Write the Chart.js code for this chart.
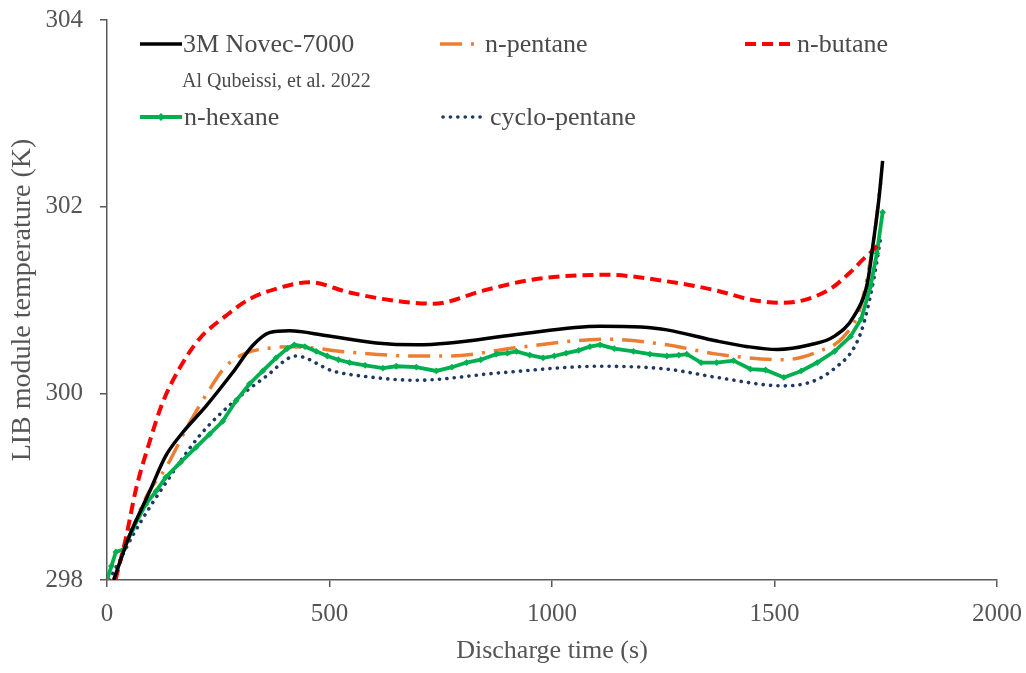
<!DOCTYPE html>
<html>
<head>
<meta charset="utf-8">
<script src="https://cdn.jsdelivr.net/npm/chart.js@4.4.1/dist/chart.umd.min.js"></script>
<style>
  html, body { margin: 0; padding: 0; background: #fff; }
  #wrap { width: 1026px; height: 673px; }
</style>
</head>
<body>
<div id="wrap"><canvas id="tempChart" width="1026" height="673"></canvas></div>
<script>
// Discharge time (s) and LIB module temperature (K) for each coolant
const novecTime = [15, 50, 95, 132, 170, 222, 282, 327, 365, 410, 491, 605, 695, 770, 920, 1108, 1200, 1258, 1371, 1440, 1506, 1580, 1634, 1679, 1709, 1723, 1735, 1743];
const novecTemp = [298.0, 298.47, 298.94, 299.33, 299.58, 299.86, 300.22, 300.51, 300.65, 300.67, 300.62, 300.54, 300.52, 300.54, 300.63, 300.72, 300.71, 300.68, 300.56, 300.5, 300.47, 300.52, 300.61, 300.83, 301.19, 301.65, 302.1, 302.49];

const pentaneTime = [15, 57, 95, 132, 177, 230, 267, 312, 357, 417, 545, 695, 770, 920, 1123, 1258, 1371, 1521, 1600, 1656, 1694, 1723, 1739];
const pentaneTemp = [298.0, 298.55, 298.95, 299.2, 299.61, 300.04, 300.29, 300.43, 300.48, 300.5, 300.44, 300.4, 300.4, 300.49, 300.58, 300.52, 300.42, 300.36, 300.45, 300.61, 300.94, 301.65, 302.26];

const butaneTime = [19, 42, 65, 95, 125, 162, 207, 267, 320, 380, 455, 545, 635, 733, 845, 958, 1123, 1258, 1371, 1450, 1520, 1619, 1671, 1700, 1723, 1739];
const butaneTemp = [298.0, 298.44, 298.97, 299.47, 299.9, 300.26, 300.58, 300.83, 301.01, 301.12, 301.19, 301.08, 301.0, 300.96, 301.1, 301.22, 301.27, 301.2, 301.1, 301.0, 300.97, 301.1, 301.3, 301.44, 301.54, 301.62];

const hexaneTime = [0, 10, 20, 38, 57, 87, 110, 132, 165, 200, 230, 260, 290, 320, 350, 380, 405, 421, 445, 470, 495, 520, 545, 580, 620, 650, 695, 740, 775, 808, 840, 875, 900, 920, 950, 980, 1005, 1032, 1060, 1085, 1108, 1140, 1183, 1220, 1258, 1285, 1303, 1335, 1370, 1408, 1446, 1480, 1521, 1560, 1596, 1635, 1671, 1695, 1716, 1730, 1743];
const hexaneTemp = [298.0, 298.15, 298.3, 298.33, 298.54, 298.81, 298.95, 299.1, 299.26, 299.42, 299.56, 299.7, 299.92, 300.1, 300.24, 300.38, 300.48, 300.52, 300.5, 300.45, 300.4, 300.36, 300.33, 300.3, 300.27, 300.29, 300.28, 300.24, 300.28, 300.33, 300.36, 300.42, 300.43, 300.45, 300.41, 300.38, 300.4, 300.43, 300.46, 300.5, 300.52, 300.48, 300.45, 300.42, 300.4, 300.41, 300.42, 300.33, 300.33, 300.35, 300.26, 300.25, 300.17, 300.24, 300.33, 300.45, 300.61, 300.8, 301.15, 301.5, 301.94];

const cycloTime = [5, 30, 57, 132, 207, 282, 357, 425, 507, 582, 695, 883, 1108, 1258, 1371, 1521, 1633, 1694, 1723, 1739];
const cycloTemp = [298.0, 298.22, 298.47, 299.04, 299.54, 299.9, 300.18, 300.4, 300.24, 300.18, 300.14, 300.22, 300.29, 300.26, 300.17, 300.08, 300.26, 300.65, 301.22, 301.68];

const xTicks = [0, 500, 1000, 1500, 2000];
const yTicks = [298, 300, 302, 304];

const toPoints = (xs, ys) => xs.map((x, i) => ({ x: x, y: ys[i] }));

const SERIF = '"Liberation Serif", "Times New Roman", serif';
const TEXT = '#555555';
const AXIS = '#595959';

const datasets = [
  {
    label: '3M Novec-7000',
    data: toPoints(novecTime, novecTemp),
    borderColor: '#000000',
    borderWidth: 3.5,
    cubicInterpolationMode: 'monotone',
    pointRadius: 0,
    order: 1
  },
  {
    label: 'n-pentane',
    data: toPoints(pentaneTime, pentaneTemp),
    borderColor: '#ED7D31',
    borderWidth: 3.5,
    borderDash: [22, 9, 3, 9],
    cubicInterpolationMode: 'monotone',
    pointRadius: 0,
    order: 3
  },
  {
    label: 'n-butane',
    data: toPoints(butaneTime, butaneTemp),
    borderColor: '#FF0000',
    borderWidth: 4,
    borderDash: [11, 6],
    cubicInterpolationMode: 'monotone',
    pointRadius: 0,
    order: 2
  },
  {
    label: 'n-hexane',
    data: toPoints(hexaneTime, hexaneTemp),
    borderColor: '#00B050',
    backgroundColor: '#00B050',
    borderWidth: 3.8,
    tension: 0,
    pointStyle: 'rectRot',
    pointRadius: 3.4,
    pointBorderWidth: 0,
    order: 2
  },
  {
    label: 'cyclo-pentane',
    data: toPoints(cycloTime, cycloTemp),
    borderColor: '#203864',
    borderWidth: 3.6,
    borderDash: [0.1, 7.3],
    borderCapStyle: 'round',
    cubicInterpolationMode: 'monotone',
    pointRadius: 0,
    order: 4
  }
];

// legend drawn inside the plot: [dataset index, sample x, sample y, sample length, text x]
const legendSlots = [
  [0, 140, 44, 42, 183],
  [1, 440, 44, 40, 485],
  [2, 745, 44, 46, 797],
  [3, 140, 117, 42, 184],
  [4, 443, 117, 40, 490]
];
const citation = 'Al Qubeissi, et al. 2022';

const insideLegend = {
  id: 'insideLegend',
  afterDraw(chart) {
    const ctx = chart.ctx;
    ctx.save();
    legendSlots.forEach(([i, x, y, len, tx]) => {
      const ds = chart.data.datasets[i];
      ctx.beginPath();
      ctx.strokeStyle = ds.borderColor;
      ctx.lineWidth = ds.borderWidth;
      ctx.lineCap = ds.borderCapStyle || 'butt';
      ctx.setLineDash(ds.borderDash || []);
      ctx.moveTo(x, y);
      ctx.lineTo(x + len, y);
      ctx.stroke();
      ctx.setLineDash([]);
      if (ds.pointRadius > 0) {
        const r = ds.pointRadius + 0.5;
        const cx = x + len / 2;
        ctx.fillStyle = ds.backgroundColor;
        ctx.beginPath();
        ctx.moveTo(cx, y - r);
        ctx.lineTo(cx + r, y);
        ctx.lineTo(cx, y + r);
        ctx.lineTo(cx - r, y);
        ctx.closePath();
        ctx.fill();
      }
      ctx.fillStyle = '#4a4a4a';
      ctx.font = '26px ' + SERIF;
      ctx.textBaseline = 'middle';
      ctx.textAlign = 'left';
      ctx.fillText(ds.label, tx, y + 1);
    });
    ctx.fillStyle = '#4a4a4a';
    ctx.font = '20px ' + SERIF;
    ctx.textBaseline = 'middle';
    ctx.fillText(citation, 182, 82);
    ctx.restore();
  }
};

const ctx = document.getElementById('tempChart').getContext('2d');
new Chart(ctx, {
  type: 'line',
  data: { datasets: datasets },
  options: {
    responsive: false,
    animation: false,
    devicePixelRatio: 1,
    layout: { padding: { top: 20, right: 29, bottom: 0, left: 0 } },
    plugins: {
      legend: { display: false },
      tooltip: { enabled: false }
    },
    scales: {
      x: {
        type: 'linear',
        min: 0,
        max: 2000,
        afterFit: (scale) => {
          scale.height = 93;
          scale.paddingLeft = 0;
          scale.paddingRight = 0;
        },
        afterBuildTicks: (scale) => { scale.ticks = xTicks.map(v => ({ value: v })); },
        ticks: {
          color: TEXT,
          font: { family: SERIF, size: 25 },
          padding: 12,
          maxRotation: 0,
          callback: (v) => String(v)
        },
        grid: { drawOnChartArea: false, drawTicks: true, tickLength: 7, color: AXIS, lineWidth: 1.5 },
        border: { color: AXIS, width: 1.5 },
        title: {
          display: true,
          text: 'Discharge time (s)',
          color: TEXT,
          font: { family: SERIF, size: 26 },
          padding: { top: 0, bottom: 6 }
        }
      },
      y: {
        type: 'linear',
        min: 298,
        max: 304,
        afterFit: (scale) => {
          scale.width = 107;
          scale.paddingTop = 0;
          scale.paddingBottom = 0;
        },
        afterBuildTicks: (scale) => { scale.ticks = yTicks.map(v => ({ value: v })); },
        ticks: {
          color: TEXT,
          font: { family: SERIF, size: 25 },
          padding: 17,
          callback: (v) => String(v)
        },
        grid: { drawOnChartArea: false, drawTicks: true, tickLength: 7, color: AXIS, lineWidth: 1.5 },
        border: { color: AXIS, width: 1.5 },
        title: {
          display: true,
          text: 'LIB module temperature (K)',
          color: TEXT,
          font: { family: SERIF, size: 28 },
          padding: { top: 6, bottom: 0 }
        }
      }
    }
  },
  plugins: [insideLegend]
});
</script>
</body>
</html>
